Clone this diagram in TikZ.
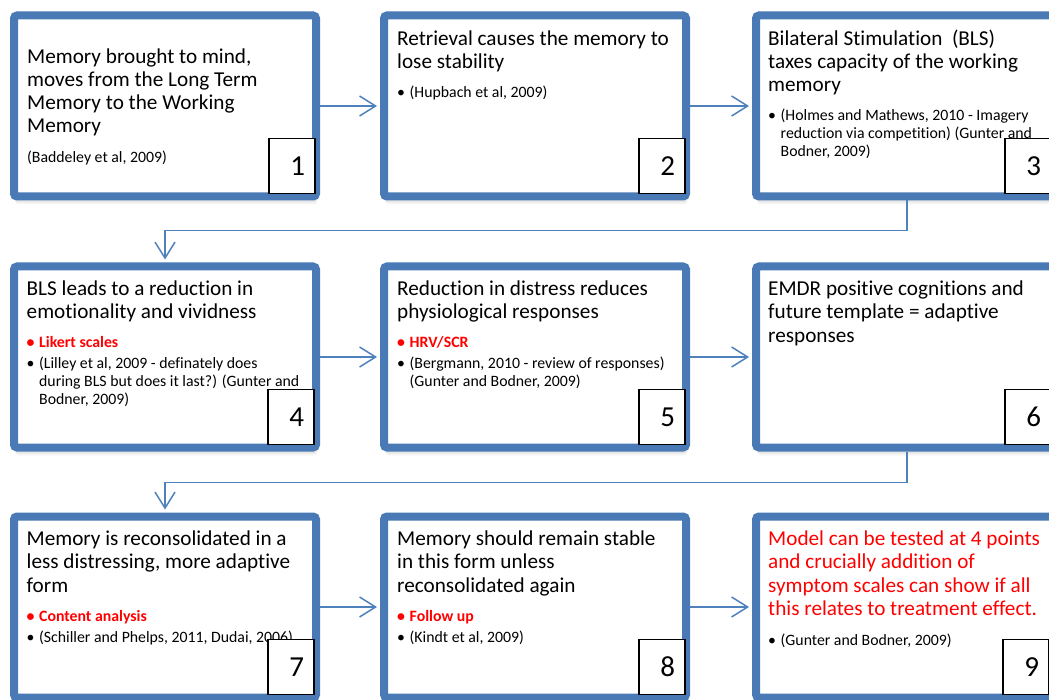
\documentclass[tikz,border=0pt]{standalone}
\usepackage{fontspec}
\setmainfont{Carlito}[Ligatures=CommonOff]
\usetikzlibrary{positioning,arrows.meta,shadows}

\definecolor{frameblue}{HTML}{4A7AB5}
\definecolor{linkblue}{HTML}{4F81BD}
\definecolor{hotred}{HTML}{FF0000}

\newcommand{\itm}{\makebox[12.5pt][l]{\textbullet}}
\newcommand{\ind}{\hspace*{12.5pt}}
\newcommand{\hot}[1]{\textcolor{hotred}{\bfseries\itm#1}}

\tikzset{
    panel/.style={draw=frameblue, line width=8pt, fill=white, rounded corners=3pt,
        minimum width=302pt, minimum height=181pt, inner sep=0pt, outer sep=4pt,
        drop shadow={shadow xshift=1.5pt, shadow yshift=-8pt, opacity=.08},
        drop shadow={shadow xshift=1pt, shadow yshift=-6pt, opacity=.12}},
    headline/.style={font=\fontsize{21.2}{23.3}\selectfont, align=left, inner sep=0pt},
    refs/.style={font=\fontsize{15.8}{18}\selectfont, align=left, inner sep=0pt},
    tag/.style={draw, line width=1.2pt, fill=white, minimum width=46pt, minimum height=55pt,
        inner sep=0pt, outer sep=0pt, text width=26pt, align=right,
        font=\fontsize{29}{30}\selectfont},
    link/.style={draw=linkblue, line width=1.5pt, shorten >=3pt,
        -{Straight Barb[length=16pt, width=20pt]}}
}

\begin{document}
\begin{tikzpicture}[x=1pt, y=-1pt]
    \useasboundingbox (0,0) rectangle (1049,700);
    \clip (0,0) rectangle (1049,700);

    % the nine steps
    \node[panel] (p1) at (165,106) {};
    \node[panel] (p2) at (535,106) {};
    \node[panel] (p3) at (907,106) {};
    \node[panel] (p4) at (165,357) {};
    \node[panel] (p5) at (535,357) {};
    \node[panel] (p6) at (907,357) {};
    \node[panel] (p7) at (165,607) {};
    \node[panel] (p8) at (535,607) {};
    \node[panel] (p9) at (907,607) {};

    % step 1
    \node[headline, below right=35pt and 17pt of p1.north west] (h1)
        {\strut Memory brought to mind,\\moves from the Long Term\\Memory to the Working\\Memory};
    \node[refs, below right=138pt and 17pt of p1.north west] (r1)
        {\strut(Baddeley et al, 2009)};
    % step 2
    \node[headline, below right=17pt and 17pt of p2.north west] (h2)
        {\strut Retrieval causes the memory to\\lose stability};
    \node[refs, below right=73pt and 17pt of p2.north west] (r2)
        {\strut\itm(Hupbach et al, 2009)};
    % step 3
    \node[headline, below right=17pt and 16pt of p3.north west] (h3)
        {\strut Bilateral Stimulation~ (BLS)\\taxes capacity of the working\\memory};
    \node[refs, below right=96pt and 16pt of p3.north west] (r3)
        {\strut\itm(Holmes and Mathews, 2010 - Imagery\\\ind reduction via competition) (Gunter and\\\ind Bodner, 2009)};
    % step 4
    \node[headline, below right=16.5pt and 16.5pt of p4.north west] (h4)
        {\strut BLS leads to a reduction in\\emotionality and vividness};
    \node[refs, below right=72.5pt and 16.5pt of p4.north west] (r4)
        {\strut\hot{Likert scales}\\[2.5pt]\itm(Lilley et al, 2009 - definately does\\\ind during BLS but does it last?) (Gunter and\\\ind Bodner, 2009)};
    % step 5
    \node[headline, below right=16.5pt and 17pt of p5.north west] (h5)
        {\strut Reduction in distress reduces\\physiological responses};
    \node[refs, below right=72.5pt and 17pt of p5.north west] (r5)
        {\strut\hot{HRV/SCR}\\[2.5pt]\itm(Bergmann, 2010 - review of responses)\\\ind(Gunter and Bodner, 2009)};
    % step 6
    \node[headline, below right=16.5pt and 16pt of p6.north west] (h6)
        {\strut EMDR positive cognitions and\\future template = adaptive\\responses};
    % step 7
    \node[headline, below right=16.5pt and 16.5pt of p7.north west] (h7)
        {\strut Memory is reconsolidated in a\\less distressing, more adaptive\\form};
    \node[refs, below right=96.5pt and 16.5pt of p7.north west] (r7)
        {\strut\hot{Content analysis}\\[2.5pt]\itm(Schiller and Phelps, 2011, Dudai, 2006)};
    % step 8
    \node[headline, below right=16.5pt and 17pt of p8.north west] (h8)
        {\strut Memory should remain stable\\in this form unless\\reconsolidated again};
    \node[refs, below right=96.5pt and 17pt of p8.north west] (r8)
        {\strut\hot{Follow up}\\[2.5pt]\itm(Kindt et al, 2009)};
    % step 9
    \node[headline, text=hotred, below right=16.5pt and 16pt of p9.north west] (h9)
        {\strut Model can be tested at 4 points\\and crucially addition of\\symptom scales can show if all\\this relates to treatment effect.};
    \node[refs, below right=120.5pt and 16pt of p9.north west] (r9)
        {\strut\itm(Gunter and Bodner, 2009)};

    % numbers
    \foreach \i/\dx in {1/5,2/5,3/11,4/6,5/5,6/11,7/6,8/5,9/13}
        \node[tag, above left=7pt and \dx pt of p\i.south east] (n\i) {\i};

    % connectors
    \draw[link] (p1) -- (p2);
    \draw[link] (p2) -- (p3);
    \draw[link] (p3.south) -- ++(0,30) -| (p4.north);
    \draw[link] (p4) -- (p5);
    \draw[link] (p5) -- (p6);
    \draw[link] (p6.south) -- ++(0,31) -| (p7.north);
    \draw[link] (p7) -- (p8);
    \draw[link] (p8) -- (p9);
\end{tikzpicture}
\end{document}
